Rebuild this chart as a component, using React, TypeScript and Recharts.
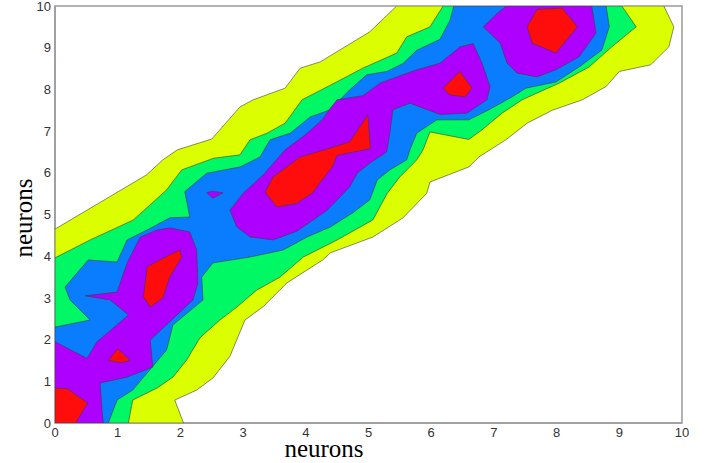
import React from 'react';
import { ScatterChart, Scatter, XAxis, YAxis, ReferenceArea } from 'recharts';

type P = [number, number];

const axisTicks = [0, 1, 2, 3, 4, 5, 6, 7, 8, 9, 10];
const axisTitle = 'neurons';

// contour level 1 (yellow) outer boundary
const yellowLevel: P[] = [
  [0, 0], [0, 4.65], [1.46, 5.95], [1.72, 6.31], [1.95, 6.55], [2.5, 6.81], [2.95, 7.58],
  [3.16, 7.75], [3.67, 8.03], [3.91, 8.51], [4.23, 8.66], [5.02, 9.38], [5.45, 10],
  [9.71, 10], [9.87, 9.5], [9.79, 9.02], [9.5, 8.59], [9.0, 8.43], [8.79, 8.07], [8.41, 7.75],
  [7.93, 7.5], [7.53, 7.19], [7.19, 6.79], [6.76, 6.38], [6.6, 6.14], [5.98, 5.78],
  [5.93, 5.51], [5.55, 4.92], [5.07, 4.46], [4.39, 4.08], [4.27, 3.91], [3.7, 3.36],
  [3.32, 2.79], [3.03, 2.47], [2.95, 2.18], [2.79, 1.6], [2.52, 1.08], [2.26, 0.79],
  [1.91, 0.55], [2.05, 0],
];

// contour level 2 (green)
const greenLevel: P[] = [
  [0, 0], [0, 3.96], [0.56, 4.39], [1.25, 4.87], [1.78, 5.59], [2.02, 6.07], [2.53, 6.35],
  [2.95, 6.43], [3.11, 6.79], [3.38, 6.95], [3.67, 7.19], [3.94, 7.75], [4.39, 8.1],
  [4.91, 8.51], [5.45, 8.87], [5.61, 9.26], [5.98, 9.5], [6.19, 10], [9.04, 10], [9.27, 9.5],
  [8.88, 9.02], [8.52, 8.54], [8.04, 8.15], [7.45, 7.75], [7.13, 7.43], [6.81, 7.03],
  [6.6, 6.8], [5.98, 6.98], [5.87, 6.55], [5.77, 6.31], [5.5, 5.9], [5.3, 5.51], [5.07, 4.87],
  [4.5, 4.39], [3.96, 3.98], [3.59, 3.5], [3.22, 3.19], [2.9, 2.78], [2.63, 2.47],
  [2.31, 2.04], [2.1, 1.51], [1.88, 1.1], [1.63, 0.84], [1.24, 0.55], [1.17, 0],
];

// contour level 3 (blue)
const blueLevel: P[] = [
  [0, 0], [0, 2.3], [0.56, 2.47], [0.24, 2.95], [0.16, 3.26], [0.53, 3.91], [0.99, 3.86],
  [1.15, 4.39], [1.56, 4.7], [1.83, 4.92], [2.15, 4.94], [2.07, 5.55], [2.42, 5.99],
  [2.95, 6.14], [3.27, 6.38], [3.43, 6.79], [3.75, 6.95], [4.07, 7.34], [4.39, 7.51],
  [4.7, 7.99], [4.97, 8.35], [5.29, 8.43], [5.55, 8.62], [5.77, 8.94], [6.14, 9.2],
  [6.3, 9.66], [6.36, 10], [8.79, 10], [8.84, 9.5], [8.72, 8.94], [8.36, 8.54], [7.99, 8.18],
  [7.51, 8.03], [7.29, 7.82], [6.92, 7.51], [6.6, 7.27], [6.09, 7.27], [5.77, 6.95],
  [5.66, 6.55], [5.61, 6.31], [5.34, 6.07], [5.14, 5.83], [5.02, 5.35], [4.75, 5.04],
  [4.39, 4.7], [4.02, 4.46], [3.64, 4.15], [3.11, 3.98], [2.52, 3.84], [2.34, 3.5],
  [2.36, 2.95], [1.88, 2.35], [1.78, 1.75], [1.47, 1.2], [1.24, 0.79], [0.99, 0.55], [0.85, 0],
];

// contour level 4 (purple) islands
const purpleA: P[] = [
  [0, 0], [0, 1.95], [0.51, 1.55], [0.67, 1.95], [1.17, 2.59], [0.88, 2.95], [0.48, 3.05],
  [0.99, 3.14], [1.15, 3.84], [1.36, 4.46], [1.63, 4.63], [1.83, 4.68], [2.15, 4.58],
  [2.26, 4.15], [2.28, 3.36], [2.2, 2.95], [1.52, 1.99], [1.56, 1.34], [1.15, 1.1],
  [0.72, 0.96], [0.75, 0.31], [0.77, 0],
];
const purpleB: P[] = [[2.42, 5.52], [2.5, 5.56], [2.68, 5.52], [2.52, 5.39]];
const purpleC: P[] = [
  [2.79, 5.1], [2.9, 4.7], [3.11, 4.46], [3.48, 4.39], [3.86, 4.6], [4.34, 5.1], [4.7, 5.66],
  [4.82, 5.99], [5.02, 6.23], [5.29, 6.5], [5.34, 6.95], [5.39, 7.51], [5.66, 7.67],
  [6.14, 7.4], [6.57, 7.43], [6.89, 7.75], [6.94, 8.07], [6.81, 8.63], [6.67, 9.1],
  [6.46, 9.02], [6.14, 8.63], [5.77, 8.47], [5.45, 8.3], [5.18, 8.15], [4.91, 7.85],
  [4.5, 7.75], [4.39, 7.55], [4.26, 7.27], [3.99, 6.91], [3.67, 6.55], [3.32, 5.95], [3.0, 5.51],
];
const purpleD: P[] = [
  [6.83, 9.5], [7.05, 9.82], [7.2, 10], [8.56, 10], [8.63, 9.35], [8.36, 8.78], [7.99, 8.47],
  [7.69, 8.3], [7.37, 8.39], [7.21, 8.63], [7.1, 9.11],
];

// contour level 5 (red) peaks
const redA: P[] = [[0, 0], [0, 0.84], [0.2, 0.82], [0.52, 0.48], [0.33, 0]];
const redB: P[] = [[0.85, 1.5], [1.0, 1.78], [1.2, 1.5], [1.05, 1.45]];
const redC: P[] = [
  [1.41, 3.03], [1.47, 3.74], [1.67, 3.91], [1.99, 4.15], [2.02, 3.98], [1.83, 3.5],
  [1.72, 3.0], [1.52, 2.78],
];
const redD: P[] = [
  [3.35, 5.54], [3.48, 5.9], [3.91, 6.38], [4.3, 6.55], [4.7, 6.74], [4.99, 7.39],
  [5.03, 6.58], [4.5, 6.42], [4.42, 6.14], [4.1, 5.51], [3.86, 5.27], [3.54, 5.18],
];
const redE: P[] = [[6.19, 8.03], [6.46, 8.43], [6.65, 8.03], [6.54, 7.82], [6.3, 7.87]];
const redF: P[] = [
  [7.53, 9.5], [7.69, 9.92], [8.09, 9.95], [8.33, 9.5], [7.99, 8.87], [7.61, 9.11],
];

const YELLOW = '#dcff00';
const GREEN = '#00f864';
const BLUE = '#0a7dff';
const PURPLE = '#ad00ff';
const RED = '#ff0c0c';

const layers: { id: string; color: string; pts: P[] }[] = [
  { id: 'y', color: YELLOW, pts: yellowLevel },
  { id: 'g', color: GREEN, pts: greenLevel },
  { id: 'b', color: BLUE, pts: blueLevel },
  { id: 'pa', color: PURPLE, pts: purpleA },
  { id: 'pb', color: PURPLE, pts: purpleB },
  { id: 'pc', color: PURPLE, pts: purpleC },
  { id: 'pd', color: PURPLE, pts: purpleD },
  { id: 'ra', color: RED, pts: redA },
  { id: 'rb', color: RED, pts: redB },
  { id: 'rc', color: RED, pts: redC },
  { id: 'rd', color: RED, pts: redD },
  { id: 're', color: RED, pts: redE },
  { id: 'rf', color: RED, pts: redF },
];

const toData = (pts: P[]) => pts.map(([x, y]) => ({ x, y }));

const polygonLine = (color: string) => (props: any) => {
  const pts: { x: number; y: number }[] = (props.points || []).filter(
    (p: any) => p && p.x != null && p.y != null
  );
  if (!pts.length) return <g />;
  const d = 'M' + pts.map((p) => `${p.x},${p.y}`).join('L') + 'Z';
  return (
    <path
      d={d}
      fill={color}
      stroke="#3c3c3c"
      strokeOpacity={0.75}
      strokeWidth={0.8}
      strokeLinejoin="round"
    />
  );
};

const noShape = () => <g />;

const tickStyle = { fill: '#333', fontSize: 13, fontFamily: 'Liberation Sans, Arial, sans-serif' };
const axisLineStyle = { stroke: '#9a9a9a', strokeWidth: 1.5 };

export default function App() {
  return (
    <div style={{ position: 'absolute', left: 0, top: 0, width: 709, height: 463, background: '#fff' }}>
      <ScatterChart width={709} height={463} margin={{ top: 6, right: 27, bottom: 0, left: 0 }}>
        <XAxis
          type="number"
          dataKey="x"
          domain={[0, 10]}
          ticks={axisTicks}
          interval={0}
          tickLine={false}
          tickSize={0}
          tickMargin={5}
          height={40}
          axisLine={axisLineStyle}
          tick={tickStyle}
          allowDataOverflow
        />
        <YAxis
          type="number"
          dataKey="y"
          domain={[0, 10]}
          ticks={axisTicks}
          interval={0}
          tickLine={false}
          tickSize={0}
          tickMargin={4}
          width={55}
          axisLine={axisLineStyle}
          tick={tickStyle}
          allowDataOverflow
        />
        {layers.map((l) => (
          <Scatter
            key={l.id}
            name={l.id}
            data={toData(l.pts)}
            fill={l.color}
            line={polygonLine(l.color)}
            lineType="joint"
            shape={noShape}
            isAnimationActive={false}
          />
        ))}
        <ReferenceArea
          x1={0}
          x2={10}
          y1={0}
          y2={10}
          fill="none"
          fillOpacity={0}
          stroke="#9a9a9a"
          strokeWidth={1.5}
          strokeOpacity={1}
        />
      </ScatterChart>
      <svg
        width={709}
        height={463}
        style={{ position: 'absolute', left: 0, top: 0, pointerEvents: 'none' }}
      >
        <text
          x={324}
          y={457}
          textAnchor="middle"
          fontFamily="Liberation Serif, Times New Roman, serif"
          fontSize={25}
          fill="#000"
        >
          {axisTitle}
        </text>
        <text
          transform="translate(32,218) rotate(-90)"
          textAnchor="middle"
          fontFamily="Liberation Serif, Times New Roman, serif"
          fontSize={25}
          fill="#000"
        >
          {axisTitle}
        </text>
      </svg>
    </div>
  );
}
